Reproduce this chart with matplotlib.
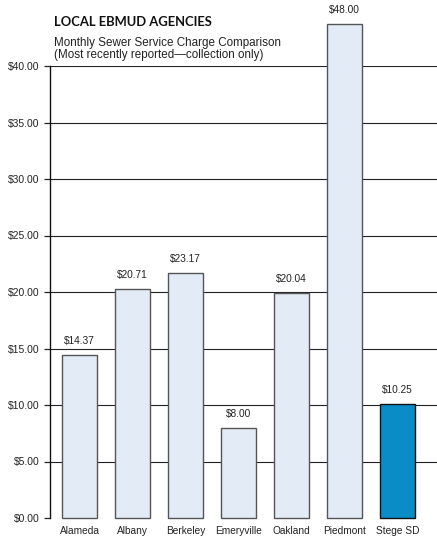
import matplotlib
matplotlib.use("Agg")
import matplotlib.pyplot as plt

agencies = ["Alameda", "Albany", "Berkeley", "Emeryville", "Oakland", "Piedmont", "Stege SD"]
bar_heights = [14.4, 20.25, 21.65, 7.95, 19.95, 43.7, 10.05]
value_labels = ["$14.37", "$20.71", "$23.17", "$8.00", "$20.04", "$48.00", "$10.25"]
y_ticks = [0, 5, 10, 15, 20, 25, 30, 35, 40]
y_tick_labels = ["$0.00", "$5.00", "$10.00", "$15.00", "$20.00", "$25.00", "$30.00", "$35.00", "$40.00"]

W, H = 437, 536
fig = plt.figure(figsize=(W / 100, H / 100), dpi=100)
ax = fig.add_axes([50 / W, 1 - 518 / H, 1 - 50 / W, (518 - 66) / H])

light = "#E3EBF6"
blue = "#0A8CC7"
colors = [light] * 6 + [blue]
edges = ["#555555"] * 6 + ["#111111"]

x = list(range(len(agencies)))
for yv in y_ticks[1:]:
    ax.axhline(yv, color="#222222", lw=0.8, zorder=1)

bars = ax.bar(x, bar_heights, width=0.66, color=colors, edgecolor=edges,
              linewidth=1.0, zorder=2, clip_on=False)

for b, lab in zip(bars, value_labels):
    ax.annotate(lab, (b.get_x() + b.get_width() / 2, b.get_height()),
                xytext=(0, 6.5), textcoords="offset points", ha="center", va="bottom",
                fontsize=7.3, family="Liberation Sans", color="#222222", annotation_clip=False)

ax.set_xlim(-0.557, 6.745)
ax.set_ylim(0, 40)
ax.set_yticks(y_ticks)
ax.set_yticklabels(y_tick_labels, family="Liberation Sans", fontsize=7.5, color="#222222")
ax.tick_params(axis="y", length=4, width=0.9, pad=3.5, color="#222222")
ax.set_xticks(x)
ax.set_xticklabels(agencies, family="Liberation Sans", fontsize=7.3, color="#222222")
ax.tick_params(axis="x", length=0, pad=6)
for s in ["top", "right", "bottom"]:
    ax.spines[s].set_visible(False)
ax.spines["left"].set_color("#111111")
ax.spines["left"].set_linewidth(1.0)
ax.patch.set_alpha(0)

fig.text(54 / W, 1 - 26 / H, "LOCAL EBMUD AGENCIES", family="Lato", weight="bold",
         fontsize=9.35, color="#111111", va="baseline")
fig.text(54 / W, 1 - 46 / H, "Monthly Sewer Service Charge Comparison", family="Liberation Sans",
         fontsize=8.35, color="#222222", va="baseline")
fig.text(54 / W, 1 - 58 / H, "(Most recently reported\u2014collection only)", family="Liberation Sans",
         fontsize=8.35, color="#222222", va="baseline")

fig.savefig("out.png", dpi=100)
